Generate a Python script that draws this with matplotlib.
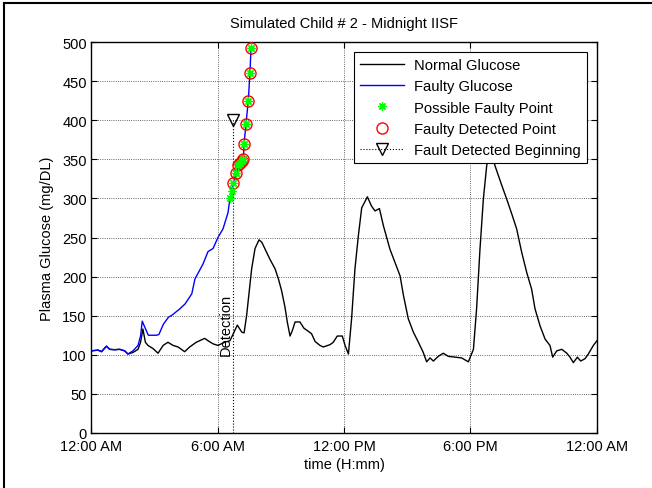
import matplotlib
matplotlib.use("Agg")
import matplotlib.pyplot as plt
from matplotlib.lines import Line2D
from matplotlib.legend_handler import HandlerLine2D

plt.rcParams['font.family'] = ['Liberation Sans', 'DejaVu Sans']
plt.rcParams['font.size'] = 10.5

# normal glucose trace (hours since midnight, mg/dL)
t_normal = [0, 0.33, 0.5, 0.73, 0.89, 1.12, 1.36, 1.6, 1.75, 1.99, 2.23, 2.35, 2.46,
            2.58, 2.7, 2.94, 3.18, 3.42, 3.65, 3.89, 4.13, 4.44, 4.68, 4.99, 5.39,
            5.55, 5.79, 6.02, 6.34, 6.59, 6.75, 6.94, 7.15, 7.26, 7.38, 7.62, 7.78,
            7.97, 8.1, 8.33, 8.49, 8.73, 8.89, 9.04, 9.2, 9.31, 9.44, 9.55, 9.68,
            9.91, 10.1, 10.31, 10.46, 10.63, 10.86, 11.02, 11.34, 11.49, 11.68,
            11.92, 12.05, 12.21, 12.36, 12.52, 12.68, 12.84, 13.11, 13.31, 13.47,
            13.68, 13.87, 14.18, 14.42, 14.66, 14.82, 15.05, 15.29, 15.53, 15.76,
            15.92, 16.08, 16.24, 16.47, 16.71, 16.95, 17.27, 17.58, 17.9, 18.14,
            18.29, 18.45, 18.61, 18.77, 18.95, 19.16, 19.48, 19.72, 19.96, 20.19,
            20.43, 20.67, 20.9, 21.06, 21.3, 21.54, 21.77, 21.9, 22.09, 22.33,
            22.57, 22.72, 22.88, 23.07, 23.23, 23.43, 23.59, 23.83, 24.0]
g_normal = [105, 106, 104, 111, 107, 106.5, 107, 105, 101, 103, 107, 116, 133,
            116, 112, 108, 102, 112, 116, 112, 110, 104, 110, 116, 121,
            118, 114, 112, 116, 118, 127, 138, 129, 128, 150, 210, 236,
            247, 244, 231, 222, 210, 197, 182, 161, 142, 124, 131, 142,
            142, 134, 130, 127, 117, 112, 110, 113, 116, 124,
            124, 112, 101, 146, 210, 252, 288, 302, 290, 284,
            287, 265, 235, 218, 201, 176, 146, 129, 116, 103,
            91, 96, 92, 98, 102, 98, 97, 96, 91, 107,
            159, 235, 299, 342, 365, 342, 317, 299, 280, 261,
            231, 205, 184, 159, 137, 120, 112, 97, 105, 107,
            102, 97, 90, 97, 92, 95, 101, 112, 118]

# faulty sensor trace
t_faulty = [0, 0.33, 0.5, 0.73, 0.89, 1.12, 1.36, 1.6, 1.75, 1.99, 2.23, 2.35, 2.43,
            2.62, 2.72, 3.11, 3.22, 3.43, 3.67, 3.86, 4.22, 4.46, 4.78, 4.93, 5.31,
            5.55, 5.79, 6.02, 6.26, 6.5, 6.59, 6.67, 6.75, 6.88, 6.99, 7.07, 7.15,
            7.23, 7.26, 7.35, 7.46, 7.54, 7.59]
g_faulty = [105, 106, 104, 111, 107, 106.5, 107, 105, 101, 105, 112, 124, 143,
            131, 125, 125, 126, 139, 148, 151, 159, 165, 178, 197, 216,
            232, 236, 250, 261, 282, 300, 309, 320, 332, 343, 345, 348,
            351, 370, 395, 425, 461, 492]

# flagged samples
t_possible = [6.59, 6.67, 6.75, 6.88, 6.99, 7.07, 7.15, 7.23, 7.26, 7.35, 7.46, 7.54, 7.59]
g_possible = [300, 309, 320, 332, 343, 345, 348, 351, 370, 395, 425, 461, 492]
t_detected = [6.75, 6.88, 6.99, 7.07, 7.15, 7.23, 7.26, 7.35, 7.46, 7.54, 7.59]
g_detected = [320, 332, 343, 345, 348, 351, 370, 395, 425, 461, 492]

t_detect = 6.75
g_detect = 400

xticks = [0, 6, 12, 18, 24]
xticklabels = ['12:00 AM', '6:00 AM', '12:00 PM', '6:00 PM', '12:00 AM']
yticks = list(range(0, 501, 50))


class HandlerMarkerRight(HandlerLine2D):
    # put the marker at the right end of the legend line
    def get_xdata(self, legend, xdescent, ydescent, width, height, fontsize):
        return [-xdescent, -xdescent + width], [-xdescent + width]


fig = plt.figure(figsize=(6.52, 4.89), dpi=100)
ax = fig.add_axes([0.1396, 0.1125, 0.776, 0.7995])

ln1, = ax.plot(t_normal, g_normal, color='k', lw=1.0, label='Normal Glucose')
ln2, = ax.plot(t_faulty, g_faulty, color='#0000ff', lw=1.0, label='Faulty Glucose')
ln3, = ax.plot(t_possible, g_possible, ls='none', marker=(8, 2, 0), color='#00ff00',
               ms=6, mew=0.9, label='Possible Faulty Point', zorder=4)
ln4, = ax.plot(t_detected, g_detected, ls='none', marker='o', mfc='none', mec='#ff0000',
               ms=8, mew=1.0, label='Faulty Detected Point', zorder=3)
ln5, = ax.plot([t_detect, t_detect], [0, g_detect], color='k', ls=':', lw=0.8,
               marker='v', markevery=[1], mfc='none', mec='k', ms=9, mew=1.0,
               label='Fault Detected Beginning')

ax.text(t_detect - 0.35, 100, 'Detection', rotation=90, ha='center', va='bottom')

ax.set_xlim(0, 24)
ax.set_ylim(0, 500)
ax.set_xticks(xticks)
ax.set_xticklabels(xticklabels)
ax.set_yticks(yticks)
ax.tick_params(direction='in', length=4, width=0.8, top=True, right=True, pad=3)
ax.tick_params(axis='x', pad=4)
for s in ax.spines.values():
    s.set_linewidth(1.0)
ax.grid(True, ls=':', color='k', lw=0.6, alpha=0.8)

ax.set_title('Simulated Child # 2 - Midnight IISF', fontsize=10.5, pad=11)
ax.set_xlabel('time (H:mm)', labelpad=3)
ax.set_ylabel('Plasma Glucose (mg/DL)', labelpad=6)

leg = ax.legend(handles=[ln1, ln2, ln3, ln4, ln5], loc='upper right',
                handler_map={ln5: HandlerMarkerRight()},
                handlelength=3.0, handletextpad=0.7, labelspacing=0.5,
                borderaxespad=0.65, fancybox=False, framealpha=1,
                edgecolor='k', numpoints=1, borderpad=0.42, fontsize=10.6)
leg.get_frame().set_linewidth(0.8)

# outer frame on the top and left edges of the figure
fig.add_artist(Line2D([0.006, 0.006], [0, 0.992], color='k', lw=1.5,
                      transform=fig.transFigure))
fig.add_artist(Line2D([0.006, 1], [0.991, 0.991], color='k', lw=1.5,
                      transform=fig.transFigure))

fig.savefig('out.png', dpi=100)
